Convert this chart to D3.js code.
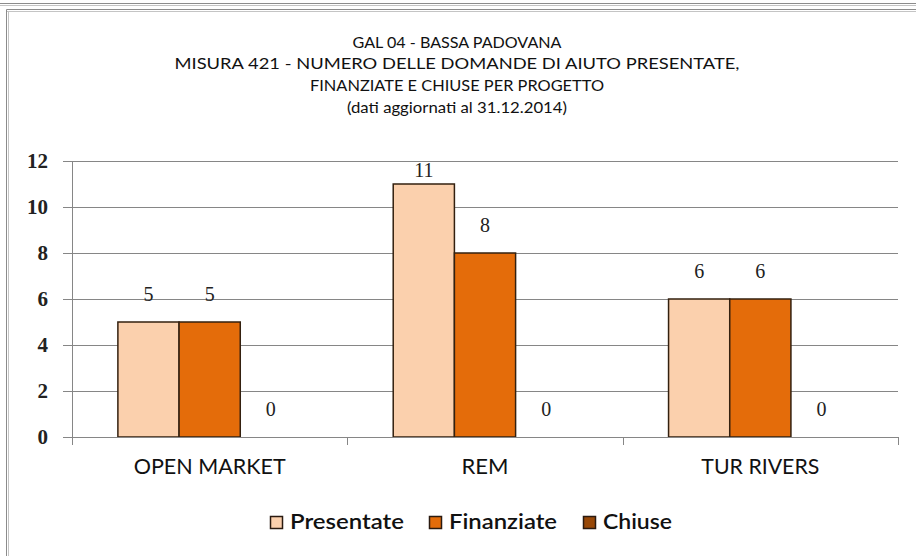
<!DOCTYPE html>
<html>
<head>
<meta charset="utf-8">
<script src="https://cdn.jsdelivr.net/npm/d3@7"></script>
<style>
  body { margin: 0; background: #fff; }
  svg { display: block; }
</style>
</head>
<body>
<svg id="chart"></svg>
<script>
// data
const categories = ["OPEN MARKET", "REM", "TUR RIVERS"];
const seriesNames = ["Presentate", "Finanziate", "Chiuse"];
const presentate = [5, 11, 6];
const finanziate = [5, 8, 6];
const chiuse = [0, 0, 0];
const yTicks = [0, 2, 4, 6, 8, 10, 12];
const titleLines = [
  "GAL 04 - BASSA PADOVANA",
  "MISURA 421 -  NUMERO DELLE DOMANDE DI AIUTO PRESENTATE,",
  "FINANZIATE E CHIUSE PER PROGETTO",
  "(dati aggiornati al 31.12.2014)"
];

const width = 916, height = 556;
const colors = ["#fbd0ad", "#e46c0a", "#984807"];
const values = [presentate, finanziate, chiuse];

// text widths measured on the reference (Calibri is not installed)
const titleWidths = [209, 565, 294, 220];
const categoryWidths = [152, 47, 118];
const legendWidths = [114, 108, 69];
const legendX = [270, 429, 583];
const font = "Lato, 'Open Sans', sans-serif";

const svg = d3.select("#chart").attr("width", width).attr("height", height);

// frame lines (the screenshot border)
const frame = svg.append("g").attr("stroke", "#8c8c8c").attr("fill", "none");
frame.append("line").attr("x1", 0).attr("x2", width).attr("y1", 3.5).attr("y2", 3.5);
frame.append("line").attr("x1", 0).attr("x2", width).attr("y1", 5.5).attr("y2", 5.5).attr("stroke", "#c4c4c4");
frame.append("line").attr("x1", 6.5).attr("x2", width).attr("y1", 9.5).attr("y2", 9.5);
frame.append("line").attr("x1", 6.5).attr("x2", width).attr("y1", 11.5).attr("y2", 11.5).attr("stroke", "#c4c4c4");
frame.append("line").attr("x1", 6.5).attr("x2", 6.5).attr("y1", 9.5).attr("y2", height);
frame.append("line").attr("x1", 8.5).attr("x2", 8.5).attr("y1", 11.5).attr("y2", height).attr("stroke", "#c4c4c4");

// title
svg.append("g")
  .selectAll("text")
  .data(titleLines)
  .join("text")
  .attr("x", 457)
  .attr("y", (d, i) => 44 + i * 21.7)
  .attr("text-anchor", "middle")
  .attr("dominant-baseline", "middle")
  .attr("font-family", font)
  .attr("font-size", 15)
  .attr("fill", "#111")
  .attr("textLength", (d, i) => titleWidths[i])
  .attr("lengthAdjust", "spacingAndGlyphs")
  .text((d) => d);

// scales
const x = d3.scaleBand().domain(categories).range([72, 898]);
const x1 = d3.scaleBand().domain(seriesNames).range([0, x.bandwidth()]).paddingOuter(0.75);
const y = d3.scaleLinear().domain([0, 12]).range([437, 161]);

// gridlines + y axis
const yAxis = svg.append("g")
  .attr("transform", "translate(72,0)")
  .call(d3.axisLeft(y).tickValues(yTicks).tickSize(9).tickPadding(15));
yAxis.select(".domain").attr("stroke", "#868686");
yAxis.selectAll(".tick line").attr("stroke", "#868686");
yAxis.selectAll(".tick text")
  .attr("font-family", "'Liberation Serif', serif")
  .attr("font-size", 21)
  .attr("font-weight", "bold")
  .attr("fill", "#222");

svg.append("g")
  .selectAll("line")
  .data(yTicks.filter((d) => d > 0))
  .join("line")
  .attr("x1", 72)
  .attr("x2", 898)
  .attr("y1", (d) => Math.round(y(d)) + 0.5)
  .attr("y2", (d) => Math.round(y(d)) + 0.5)
  .attr("stroke", "#868686");

// bars
const groups = svg.append("g")
  .selectAll("g")
  .data(categories)
  .join("g")
  .attr("transform", (d) => `translate(${x(d)},0)`);

groups.selectAll("rect")
  .data((d, i) => seriesNames.map((s, j) => ({ s, j, v: values[j][i] })))
  .join("rect")
  .attr("x", (d) => x1(d.s))
  .attr("width", x1.bandwidth())
  .attr("y", (d) => y(d.v))
  .attr("height", (d) => y(0) - y(d.v))
  .attr("fill", (d) => colors[d.j])
  .attr("stroke", (d) => (d.v > 0 ? "#33200f" : "none"))
  .attr("stroke-width", 1.5);

groups.selectAll("text")
  .data((d, i) => seriesNames.map((s, j) => ({ s, j, v: values[j][i] })))
  .join("text")
  .attr("x", (d) => x1(d.s) + x1.bandwidth() / 2)
  .attr("y", (d) => Math.max(y(d.v) - 26, y(12) + 11))
  .attr("text-anchor", "middle")
  .attr("dominant-baseline", "middle")
  .attr("font-family", "'Liberation Serif', serif")
  .attr("font-size", 20)
  .attr("fill", "#222")
  .text((d) => d.v);

// x axis
const xAxis = svg.append("g").attr("transform", `translate(0,${y(0)})`);
xAxis.append("line")
  .attr("x1", 72).attr("x2", 898)
  .attr("y1", 0.5).attr("y2", 0.5)
  .attr("stroke", "#868686");
xAxis.selectAll(".xtick")
  .data(categories.concat([null]))
  .join("line")
  .attr("class", "xtick")
  .attr("x1", (d) => Math.round(d ? x(d) : x.range()[1]) + 0.5)
  .attr("x2", (d) => Math.round(d ? x(d) : x.range()[1]) + 0.5)
  .attr("y1", 0)
  .attr("y2", 8)
  .attr("stroke", "#868686");
xAxis.selectAll(".xlabel")
  .data(categories)
  .join("text")
  .attr("class", "xlabel")
  .attr("x", (d) => x(d) + x.bandwidth() / 2)
  .attr("y", 32)
  .attr("text-anchor", "middle")
  .attr("dominant-baseline", "middle")
  .attr("font-family", font)
  .attr("font-size", 21)
  .attr("fill", "#111")
  .attr("textLength", (d, i) => categoryWidths[i])
  .attr("lengthAdjust", "spacingAndGlyphs")
  .text((d) => d);

// legend
const legend = svg.append("g")
  .selectAll("g")
  .data(seriesNames)
  .join("g")
  .attr("transform", (d, i) => `translate(${legendX[i]},523)`);
legend.append("rect")
  .attr("x", 0.5)
  .attr("y", -6.5)
  .attr("width", 12)
  .attr("height", 12)
  .attr("fill", (d, i) => colors[i])
  .attr("stroke", "#2a1a10")
  .attr("stroke-width", 1.5);
legend.append("text")
  .attr("x", 20)
  .attr("y", 1)
  .attr("dominant-baseline", "middle")
  .attr("font-family", font)
  .attr("font-size", 21)
  .attr("font-weight", 600)
  .attr("fill", "#111")
  .attr("textLength", (d, i) => legendWidths[i])
  .attr("lengthAdjust", "spacingAndGlyphs")
  .text((d) => d);
</script>
</body>
</html>
